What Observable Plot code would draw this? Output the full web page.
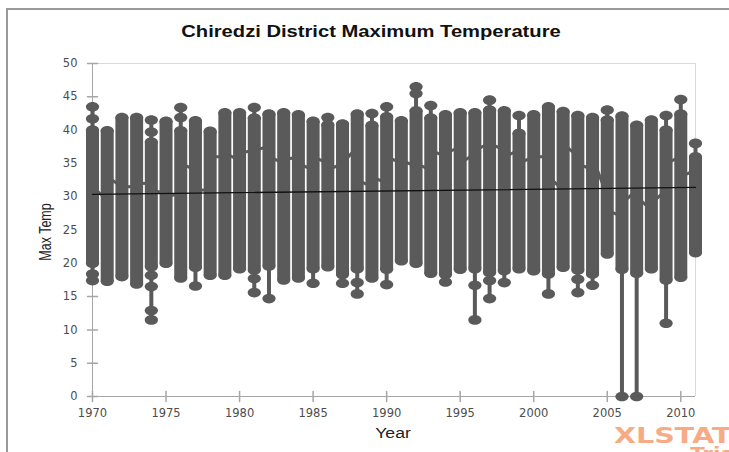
<!DOCTYPE html>
<html><head><meta charset="utf-8">
<script src="https://cdn.jsdelivr.net/npm/d3@7"></script>
<script src="https://cdn.jsdelivr.net/npm/@observablehq/plot@0.6"></script>
<style>
body{margin:0;background:#fff;overflow:hidden}
#wrap{position:relative;width:729px;height:452px;overflow:hidden;background:#fff}
#chart{position:absolute;left:0;top:0}
#frameTop{position:absolute;left:6px;top:8px;width:730px;height:2px;background:#999}
#frameLeft{position:absolute;left:6px;top:8px;width:2px;height:460px;background:#999}
.lbl{position:absolute;font-family:"Liberation Sans",Arial,sans-serif;white-space:nowrap}
#title{left:371px;top:32px;font-size:16px;font-weight:bold;color:#111;transform:translate(-50%,-50%) scaleX(1.26)}
#xlab{left:393px;top:433px;font-size:14px;color:#222;transform:translate(-50%,-50%) scaleX(1.26)}
#ylab{left:46px;top:232px;font-size:12.5px;color:#222;transform:translate(-50%,-50%) rotate(-90deg) scaleY(1.26)}
#wm{left:614px;top:425px;font-family:"DejaVu Sans",sans-serif;font-weight:bold;font-size:22px;line-height:22px;color:#f7ab85;transform-origin:left top;transform:scaleX(1.3)}
#wm2{left:690px;top:447px;font-family:"DejaVu Sans",sans-serif;font-weight:bold;font-size:18px;line-height:14px;color:#f7ab85;transform-origin:left top;transform:scaleX(1.2)}
</style></head><body>
<div id="wrap">
  <div id="chart"></div>
  <div id="frameTop"></div><div id="frameLeft"></div>
  <div class="lbl" id="title">Chiredzi District Maximum Temperature</div>
  <div class="lbl" id="xlab">Year</div>
  <div class="lbl" id="ylab">Max Temp</div>
  <div class="lbl" id="wm">XLSTAT</div>
  <div class="lbl" id="wm2">Trial</div>
</div>
<script>
const years = [1970,1971,1972,1973,1974,1975,1976,1977,1978,1979,1980,1981,1982,1983,1984,1985,1986,1987,1988,1989,1990,1991,1992,1993,1994,1995,1996,1997,1998,1999,2000,2001,2002,2003,2004,2005,2006,2007,2008,2009,2010,2011];
// upper end of the dense block of daily values per year
const blockHigh = [40.0,39.9,41.9,41.9,38.2,41.3,39.9,41.4,39.8,42.6,42.6,41.8,42.4,42.6,42.3,41.3,40.8,40.9,42.4,40.7,42.0,41.4,42.9,41.8,42.3,42.6,42.6,43.0,42.9,39.5,42.3,43.5,42.8,42.2,41.9,41.5,42.1,40.7,41.5,40.0,42.4,36.0];
// lower end of the dense block
const blockLow = [20.0,17.3,18.0,16.9,19.5,20.0,17.8,19.4,18.2,18.2,19.2,19.0,19.6,17.5,17.8,19.2,19.5,18.3,19.2,17.8,19.1,20.4,20.0,18.5,18.3,19.1,19.2,18.6,18.9,19.2,18.9,18.4,19.4,19.0,18.4,21.4,19.1,18.5,19.2,17.5,17.9,21.6];
// isolated daily values outside the block
const extraYears = [1970,1970,1970,1970,1974,1974,1974,1974,1974,1974,1976,1976,1977,1981,1981,1981,1982,1985,1986,1987,1988,1988,1989,1990,1990,1992,1992,1993,1994,1996,1996,1997,1997,1997,1998,1999,2001,2003,2003,2004,2005,2006,2007,2009,2009,2010,2011];
const extraTemps = [43.5,41.7,18.4,17.4,41.5,39.7,18.2,16.5,12.9,11.5,43.4,41.9,16.6,43.4,17.7,15.6,14.7,17.0,41.9,17.0,17.1,15.4,42.5,43.5,16.8,46.5,45.5,43.7,17.2,16.7,11.5,44.5,17.4,14.7,17.1,42.2,15.4,17.6,15.6,16.7,43.0,0,0,42.2,11.0,44.6,38.0];
// last value of each year -> first value of the next year (joining line of the series)
const joinFromYears = [1970,1971,1972,1973,1974,1975,1976,1977,1978,1979,1980,1981,1982,1983,1984,1985,1986,1987,1988,1989,1990,1991,1992,1993,1994,1995,1996,1997,1998,1999,2000,2001,2002,2003,2004,2005,2006,2007,2008,2009,2010];
const joinFromTemps = [31.5,33.0,31.5,32.0,31.0,30.0,35.0,31.0,36.0,36.5,36.5,37.0,36.0,35.5,35.0,36.0,34.0,35.0,32.5,33.0,36.0,35.5,35.0,37.0,36.5,35.0,37.0,38.0,36.0,35.0,36.0,33.0,38.0,35.0,36.0,28.0,29.0,30.0,29.0,35.0,33.0];
const joinToTemps = [29.5,31.5,31.5,32.0,30.5,30.5,34.0,31.0,36.0,35.5,37.0,37.5,35.0,36.0,34.0,35.0,35.0,37.5,31.5,32.0,35.0,34.5,34.0,36.0,37.5,36.5,38.0,37.0,37.0,36.0,36.0,31.0,36.0,34.0,30.0,27.0,31.0,28.0,31.0,36.0,34.0];
// linear trend
const trendYears = [1970, 2011];
const trendTemps = [30.35, 31.4];
const xTicks = [1970,1975,1980,1985,1990,1995,2000,2005,2010];
const yTicks = [0,5,10,15,20,25,30,35,40,45,50];

const barColor = "#5a5a5a";
const axisColor = "#a6a6a6";

const bars = years.map((y, i) => ({year: y, hi: blockHigh[i], lo: blockLow[i]}));
const extras = extraYears.map((y, i) => ({year: y, t: extraTemps[i]}));
const ends = bars.flatMap(d => [{year: d.year, t: d.hi}, {year: d.year, t: d.lo}]);
const stems = bars.map(d => {
  const ex = extras.filter(e => e.year === d.year).map(e => e.t);
  return {year: d.year, top: Math.max(d.hi, ...ex), bot: Math.min(d.lo, ...ex)};
});
const joins = joinFromYears.map((y, i) => ({y1: y, y2: years[years.indexOf(y) + 1], a: joinFromTemps[i], b: joinToTemps[i]}));
const trend = trendYears.map((y, i) => ({year: y, t: trendTemps[i]}));

const ellipse = {
  draw(ctx, size) {
    const a = Math.sqrt(size / Math.PI), b = a * 0.73, k = 0.5523;
    ctx.moveTo(a, 0);
    ctx.bezierCurveTo(a, k * b, k * a, b, 0, b);
    ctx.bezierCurveTo(-k * a, b, -a, k * b, -a, 0);
    ctx.bezierCurveTo(-a, -k * b, -k * a, -b, 0, -b);
    ctx.bezierCurveTo(k * a, -b, a, -k * b, a, 0);
    ctx.closePath();
  }
};
const tickShape = {draw(ctx, l) { ctx.moveTo(0, -l / 2); ctx.lineTo(0, l / 2); }};

const chart = Plot.plot({
  width: 729, height: 452,
  marginLeft: 92, marginRight: 34, marginTop: 63, marginBottom: 56,
  x: {domain: [1970, 2011]},
  y: {domain: [0, 50]},
  style: {background: "transparent", fontFamily: "DejaVu Sans, sans-serif"},
  marks: [
    Plot.ruleY([50], {stroke: "#d9d9d9"}),
    Plot.ruleX([2011], {stroke: "#d9d9d9"}),
    Plot.ruleX([1970], {stroke: axisColor}),
    Plot.ruleY([0], {stroke: axisColor}),
    Plot.vector(xTicks, {x: d => d, y: 0, length: 10, rotate: 0, anchor: "start", shape: tickShape, stroke: axisColor}),
    Plot.vector(yTicks, {x: 1970, y: d => d, length: 10, rotate: 90, anchor: "start", shape: tickShape, stroke: axisColor}),
    Plot.link(joins, {x1: "y1", x2: "y2", y1: "a", y2: "b", stroke: barColor, strokeWidth: 3}),
    Plot.ruleX(stems, {x: "year", y1: "bot", y2: "top", stroke: barColor, strokeWidth: 4}),
    Plot.ruleX(bars, {x: "year", y1: "lo", y2: "hi", stroke: barColor, strokeWidth: 13}),
    Plot.dot(ends.concat(extras), {x: "year", y: "t", r: 6.6, symbol: ellipse, fill: barColor, stroke: null}),
    Plot.line(trend, {x: "year", y: "t", stroke: "#111", strokeWidth: 1.3}),
    Plot.axisX({ticks: xTicks, tickSize: 0, tickPadding: 12, tickFormat: d => String(d), fontSize: 11.5, fill: "#4d4d4d", label: null}),
    Plot.axisY({ticks: yTicks, tickSize: 0, tickPadding: 15, fontSize: 11.5, fill: "#4d4d4d", label: null})
  ]
});
document.getElementById("chart").appendChild(chart);
</script>
</body></html>
